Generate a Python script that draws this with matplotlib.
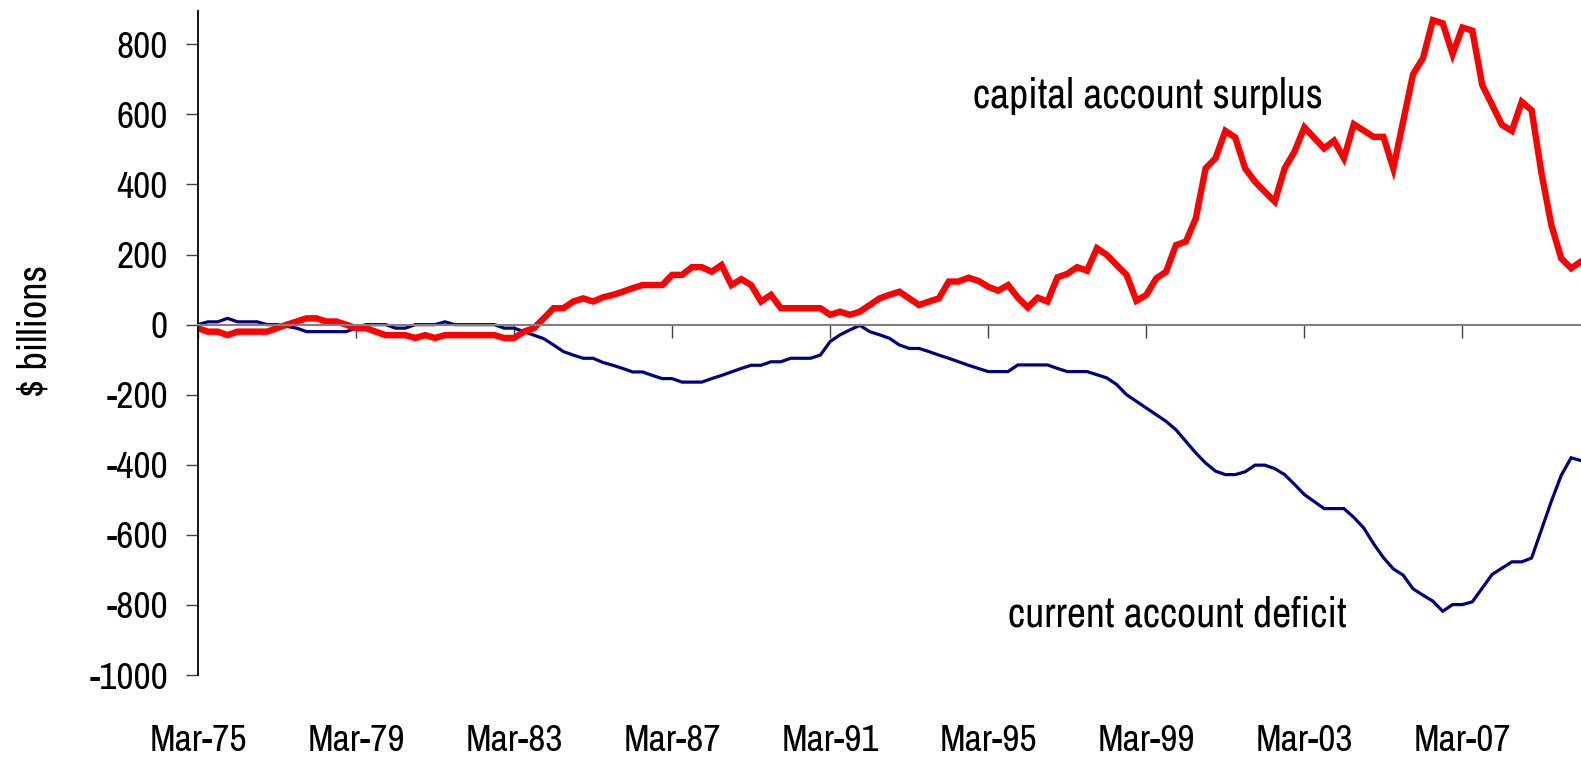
import numpy as np
import pandas as pd
import matplotlib
matplotlib.use('Agg')
import matplotlib.pyplot as plt

# quarterly data, Mar-75 onwards ($ billions)
quarters = pd.period_range('1975Q1', periods=141, freq='Q')

capital_surplus = [
    -10, -20, -20, -30, -20, -20, -20, -20, -10, 0,
    9, 18, 18, 9, 9, 0, -10, -10, -20, -30,
    -30, -30, -38, -30, -38, -30, -30, -30, -30, -30,
    -30, -38, -38, -20, -10, 18, 47, 47, 66, 75,
    66, 78, 85, 94, 104, 113, 113, 113, 142, 142,
    164, 164, 151, 170, 113, 130, 113, 66, 85, 47,
    47, 47, 47, 47, 28, 37, 28, 37, 56, 75,
    85, 94, 75, 56, 66, 75, 123, 123, 134, 125,
    108, 97, 113, 77, 49, 77, 66, 135, 145, 164,
    154, 218, 199, 170, 142, 68, 85, 132, 151, 227,
    237, 303, 446, 475, 553, 534, 446, 408, 379, 351,
    446, 494, 563, 533, 503, 525, 475, 572, 554, 536,
    536, 446, 580, 715, 760, 869, 860, 772, 848, 839,
    684, 627, 570, 553, 636, 612, 432, 284, 189, 161,
    180,
]

current_deficit = [
    0, 8, 8, 18, 8, 8, 8, 0, 0, -5,
    -10, -20, -20, -20, -20, -20, -10, 0, 0, 0,
    -10, -10, 0, 0, 0, 8, 0, 0, 0, 0,
    0, -10, -10, -20, -30, -40, -58, -77, -87, -96,
    -96, -108, -116, -125, -135, -135, -145, -154, -154, -164,
    -164, -164, -154, -145, -135, -125, -116, -116, -106, -106,
    -96, -96, -96, -87, -48, -29, -15, -2, -20, -29,
    -39, -58, -68, -68, -77, -87, -96, -106, -116, -125,
    -134, -134, -134, -115, -115, -115, -115, -125, -134, -134,
    -134, -143, -152, -171, -200, -219, -238, -257, -276, -300,
    -333, -366, -395, -418, -428, -428, -420, -401, -401, -411,
    -428, -456, -485, -505, -525, -525, -525, -550, -580, -625,
    -665, -697, -715, -754, -772, -789, -818, -799, -799, -791,
    -752, -713, -695, -677, -677, -666, -585, -504, -430, -380,
    -388,
]

tick_labels = ['Mar-75', 'Mar-79', 'Mar-83', 'Mar-87', 'Mar-91',
               'Mar-95', 'Mar-99', 'Mar-03', 'Mar-07']
y_ticks = [-1000, -800, -600, -400, -200, 0, 200, 400, 600, 800]

# narrow sans, close to the Arial Narrow of the original
plt.rcParams['font.family'] = ['Archivo Narrow', 'Liberation Sans', 'DejaVu Sans']
fs = 27

x = np.arange(len(quarters))

fig = plt.figure(figsize=(15.81, 7.60), dpi=100)
ax = fig.add_axes([0.1252, 0.1118, 0.8748, 0.8737])

ax.plot(x, current_deficit, color='#000080', lw=2.3, solid_joinstyle='miter')
ax.plot(x, capital_surplus, color='#ff0000', lw=4.6, solid_joinstyle='miter')

ax.set_xlim(0, len(quarters) - 1)
ax.set_ylim(-1000, 895)

# zero line carries the tick marks
for s in ['top', 'right']:
    ax.spines[s].set_visible(False)
ax.spines['bottom'].set_position(('data', 0))
ax.spines['bottom'].set_color('#808080')
ax.spines['bottom'].set_linewidth(1.5)
ax.spines['left'].set_color('black')
ax.spines['left'].set_linewidth(1.3)

tick_pos = x[::16][:len(tick_labels)]
ax.set_xticks(tick_pos)
ax.tick_params(axis='x', direction='out', length=9.5, width=1, color='#404040',
               labelbottom=False)

# labels sit at the bottom of the chart
secax = ax.secondary_xaxis('bottom')
secax.set_xticks(tick_pos, tick_labels)
secax.spines['bottom'].set_visible(False)
secax.tick_params(axis='x', length=0, pad=35, labelsize=fs)

ax.set_yticks(y_ticks)
ax.set_yticklabels([str(v) for v in y_ticks])
ax.tick_params(axis='y', direction='out', length=8.6, width=1, color='#404040',
               pad=13, labelsize=fs)

fig.text(0.022, 0.565, '$ billions', rotation=90, ha='center', va='center', fontsize=29)

ax.text(78.5, 652, 'capital account surplus', ha='left', va='center', fontsize=30)
ax.text(82, -828, 'current account deficit', ha='left', va='center', fontsize=30)

fig.savefig('out.png', dpi=100)
